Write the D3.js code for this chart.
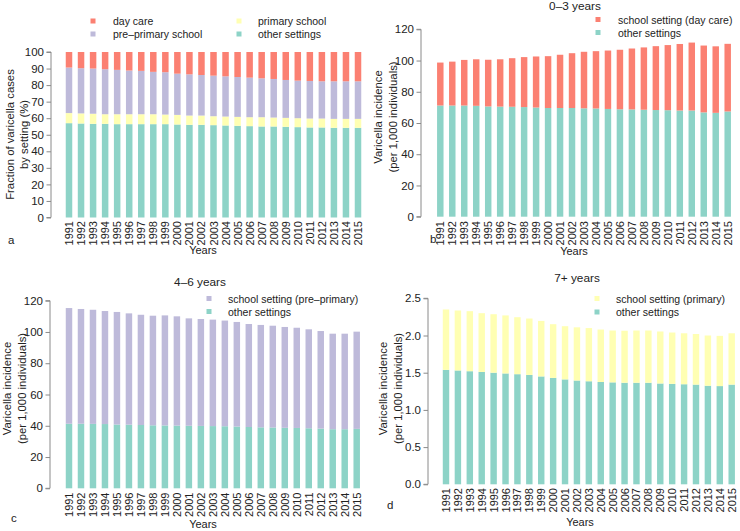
<!DOCTYPE html>
<html><head><meta charset="utf-8">
<script src="https://cdn.jsdelivr.net/npm/d3@7"></script>
<style>
body{margin:0;background:#fff;}
text{font-family:"Liberation Sans",Arial,Helvetica,sans-serif;fill:#222;}
</style></head>
<body><svg id="c" width="740" height="531"></svg>
<script>
const years = d3.range(1991, 2016).map(String);

// Panel a: fraction of cases by setting (%)
const fracOther     = [57.0,56.8,56.6,56.6,56.4,56.4,56.4,56.4,56.4,56.2,56.0,56.0,55.8,55.6,55.4,55.2,55.0,55.0,54.8,54.6,54.4,54.4,54.2,54.2,54.2];
const fracPrimary   = [6.1,6.1,6.1,5.8,6.0,6.0,6.0,6.0,5.8,5.8,5.6,5.6,5.4,5.4,5.4,5.4,5.6,5.4,5.4,5.4,5.4,5.4,5.4,5.4,5.4];
const fracPreprim   = [27.5,27.3,27.3,27.2,26.8,26.4,26.2,25.6,25.6,24.9,24.9,24.5,24.5,24.3,24.1,23.9,23.5,23.3,22.9,22.7,22.7,22.5,22.7,22.7,22.7];
const fracDaycare   = [9.4,9.8,10.0,10.4,10.8,11.2,11.4,12.0,12.2,13.1,13.5,13.9,14.3,14.7,15.1,15.5,15.9,16.3,16.9,17.3,17.5,17.7,17.7,17.7,17.7];

// Panel b: 0-3 years
const b_other   = [71.2,71.2,71.2,71.0,70.6,70.5,70.4,70.2,69.9,69.6,69.6,69.6,69.4,69.3,69.0,68.8,68.7,68.5,68.3,68.2,68.0,68.0,66.8,66.5,67.4];
const b_daycare = [27.5,28.1,29.2,29.8,29.9,30.3,31.1,32.0,32.7,33.2,34.1,35.1,36.2,36.7,37.4,38.1,39.0,39.9,40.9,41.7,42.6,43.5,42.8,42.6,43.3];

// Panel c: 4-6 years
const c_other   = [41.3,41.3,41.2,41.1,40.8,40.7,40.5,40.3,40.2,40.1,40.0,39.9,39.8,39.7,39.5,39.2,39.0,38.9,38.7,38.6,38.4,38.2,37.8,37.8,38.0];
const c_preprim = [74.0,73.4,73.0,72.3,72.0,71.2,70.5,70.1,70.4,69.9,68.7,68.4,68.1,67.6,66.9,65.9,65.5,65.1,64.5,64.1,63.3,62.4,61.1,61.1,62.2];

// Panel d: 7+ years
const d_other   = [1.538,1.53,1.52,1.51,1.50,1.49,1.48,1.47,1.45,1.43,1.41,1.395,1.385,1.375,1.37,1.365,1.365,1.365,1.355,1.35,1.345,1.34,1.325,1.32,1.34];
const d_primary = [0.812,0.806,0.807,0.79,0.786,0.78,0.766,0.758,0.746,0.722,0.715,0.715,0.715,0.705,0.697,0.699,0.702,0.702,0.699,0.69,0.685,0.68,0.675,0.675,0.69];

const ticksA = [0,10,20,30,40,50,60,70,80,90,100];
const ticksBC = [0,20,40,60,80,100,120];
const ticksD = [0,0.5,1.0,1.5,2.0,2.5];

const COL = {daycare:"#FB8072", preprim:"#BEBADA", primary:"#FFFFB3", other:"#8DD3C7"};

const svg = d3.select("#c");

function panel(cfg){
  const g = svg.append("g");
  const step = (cfg.lastC - cfg.firstC)/(years.length-1);
  const x = d3.scaleBand().domain(years)
      .range([cfg.firstC - step/2, cfg.lastC + step/2])
      .paddingInner(0.46).paddingOuter(0.23);
  const y = d3.scaleLinear().domain([0, cfg.ticks[cfg.ticks.length-1]]).range([cfg.y0, cfg.yTop]);
  const rows = years.map((yr,i)=>{const r={year:yr}; cfg.series.forEach(s=>r[s.key]=s.values[i]); return r;});
  const stack = d3.stack().keys(cfg.series.map(s=>s.key))(rows);
  stack.forEach((layer,li)=>{
    g.append("g").selectAll("rect").data(layer).join("rect")
      .attr("x", d=>x(d.data.year)).attr("width", x.bandwidth())
      .attr("y", d=>y(d[1])).attr("height", d=>y(d[0])-y(d[1]))
      .attr("fill", cfg.series[li].color);
  });
  // y axis
  const ax = d3.axisLeft(y).tickValues(cfg.ticks).tickSize(4.5).tickPadding(2.5)
      .tickFormat(cfg.fmt || d3.format("d"));
  const ag = g.append("g").attr("transform",`translate(${cfg.axisX},0)`).call(ax);
  ag.select(".domain").attr("stroke","#8a8a8a").attr("d",`M-4.5,${y(cfg.ticks[cfg.ticks.length-1])}H0V${y(0)}H-4.5`);
  ag.selectAll(".tick line").attr("stroke","#8a8a8a");
  ag.selectAll(".tick text").attr("font-size","11.5px").attr("fill","#222");
  // year labels
  g.append("g").selectAll("text").data(years).join("text")
    .attr("transform", d=>`translate(${x(d)+x.bandwidth()/2},${cfg.labTop}) rotate(-90)`)
    .attr("text-anchor","end").attr("dominant-baseline","central")
    .attr("font-size","11px").text(d=>d);
  g.append("text").attr("x",cfg.yearsX).attr("y",cfg.yearsY).attr("text-anchor","middle")
    .attr("font-size","11px").text("Years");
  // y title
  cfg.ytitle.forEach((t,i)=>{
    g.append("text").attr("transform",`translate(${cfg.ytX[i]},${cfg.ytY}) rotate(-90)`)
      .attr("text-anchor","middle").attr("dominant-baseline","central")
      .attr("font-size","11.3px").text(t);
  });
  // letter
  g.append("text").attr("x",cfg.letter[1]).attr("y",cfg.letter[2]).attr("font-size","11.5px").text(cfg.letter[0]);
  // title
  if(cfg.title) g.append("text").attr("x",cfg.title[1]).attr("y",cfg.title[2]).attr("text-anchor","middle")
      .attr("font-size","11.8px").text(cfg.title[0]);
  // legend
  cfg.legend.forEach(l=>{
    g.append("rect").attr("x",l.x-2.5).attr("y",l.y-2.5).attr("width",5).attr("height",5).attr("fill",l.color);
    g.append("text").attr("x",l.tx).attr("y",l.y).attr("dominant-baseline","central")
      .attr("font-size","10.5px").text(l.label);
  });
}

panel({
  firstC:69, lastC:358, y0:217.5, yTop:52, axisX:51, ticks:ticksA, labTop:221,
  series:[{key:"other",values:fracOther,color:COL.other},{key:"primary",values:fracPrimary,color:COL.primary},
          {key:"preprim",values:fracPreprim,color:COL.preprim},{key:"daycare",values:fracDaycare,color:COL.daycare}],
  yearsX:203, yearsY:254, ytitle:["Fraction of varicella cases","by setting (%)"], ytX:[10,24], ytY:134.5,
  letter:["a",8,244],
  legend:[{x:93,y:21,tx:113,label:"day care",color:COL.daycare},
          {x:93,y:34,tx:113,label:"pre\u2013primary school",color:COL.preprim},
          {x:239,y:21,tx:258,label:"primary school",color:COL.primary},
          {x:239,y:34,tx:258,label:"other settings",color:COL.other}]
});

panel({
  firstC:440.3, lastC:727.7, y0:216.7, yTop:29.3, axisX:421, ticks:ticksBC, labTop:221,
  series:[{key:"other",values:b_other,color:COL.other},{key:"daycare",values:b_daycare,color:COL.daycare}],
  yearsX:574, yearsY:255, ytitle:["Varicella incidence","(per 1,000 individuals)"], ytX:[378,393], ytY:117,
  letter:["b",430,243], title:["0\u20133 years",575,10],
  legend:[{x:598,y:19.5,tx:618,label:"school setting (day care)",color:COL.daycare},
          {x:598,y:32.5,tx:618,label:"other settings",color:COL.other}]
});

panel({
  firstC:69, lastC:356.7, y0:488.3, yTop:300.7, axisX:50, ticks:ticksBC, labTop:492.5,
  series:[{key:"other",values:c_other,color:COL.other},{key:"preprim",values:c_preprim,color:COL.preprim}],
  yearsX:203, yearsY:528, ytitle:["Varicella incidence","(per 1,000 individuals)"], ytX:[7,22], ytY:388.5,
  letter:["c",11,522], title:["4\u20136 years",200,286],
  legend:[{x:209,y:298.5,tx:228,label:"school setting (pre\u2013primary)",color:COL.preprim},
          {x:209,y:311.5,tx:228,label:"other settings",color:COL.other}]
});

panel({
  firstC:446, lastC:731.7, y0:484.3, yTop:298.3, axisX:428, ticks:ticksD, labTop:488,
  fmt:d3.format(".1f"),
  series:[{key:"other",values:d_other,color:COL.other},{key:"primary",values:d_primary,color:COL.primary}],
  yearsX:580, yearsY:526, ytitle:["Varicella incidence","(per 1,000 individuals)"], ytX:[383,398], ytY:388.5,
  letter:["d",387,509], title:["7+ years",577,282],
  legend:[{x:597,y:298.5,tx:616,label:"school setting (primary)",color:COL.primary},
          {x:597,y:312,tx:616,label:"other settings",color:COL.other}]
});
</script></body></html>
